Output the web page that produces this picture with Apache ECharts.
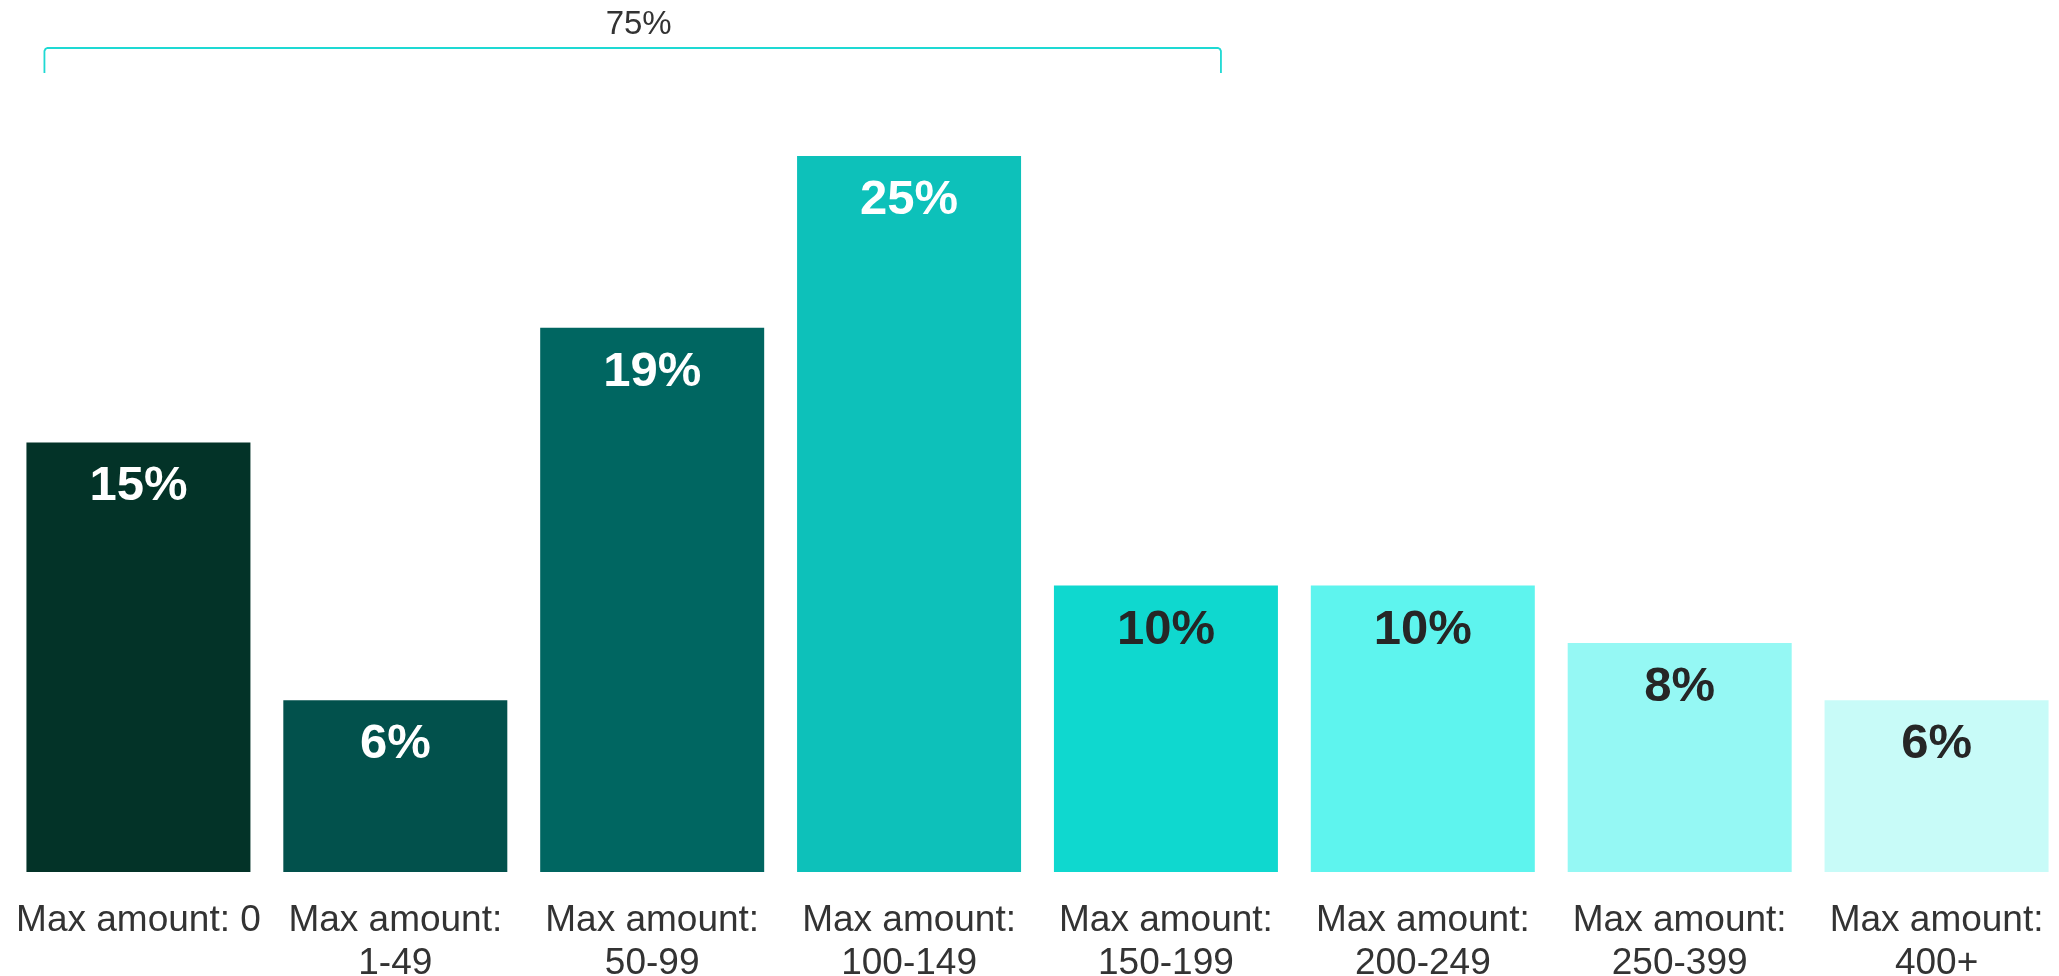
<!DOCTYPE html>
<html>
<head>
<meta charset="utf-8">
<script src="https://cdn.jsdelivr.net/npm/echarts@6/dist/echarts.min.js"></script>
<style>
  html, body { margin: 0; padding: 0; background: #fff; }
  #chart { width: 2059px; height: 976px; }
</style>
</head>
<body>
<div id="chart"></div>
<script>
// chart data
const categories = ["Max amount: 0", "Max amount:\n1-49", "Max amount:\n50-99", "Max amount:\n100-149",
    "Max amount:\n150-199", "Max amount:\n200-249", "Max amount:\n250-399", "Max amount:\n400+"];
const shares = [15, 6, 19, 25, 10, 10, 8, 6];
const barColors = ["#033328", "#02514C", "#006661", "#0DC1BA", "#0FD8CF", "#5EF4EE", "#95F8F4", "#C8FBF8"];
const labelColors = ["#FFFFFF", "#FFFFFF", "#FFFFFF", "#FFFFFF", "#262626", "#262626", "#262626", "#262626"];
const bracketLabel = "75%";
const bracketFrom = 0;
const bracketTo = 4;

const chart = echarts.init(document.getElementById("chart"));

const option = {
    animation: false,
    grid: { left: 10, right: -6, top: 156, bottom: 104, containLabel: false, outerBoundsMode: 'none' },
    xAxis: {
        type: 'category',
        data: categories,
        axisLine: { show: false },
        axisTick: { show: false },
        axisLabel: {
            interval: 0,
            margin: 27,
            fontFamily: '"Liberation Sans", Arial, sans-serif',
            fontSize: 37,
            lineHeight: 43,
            color: '#333333'
        }
    },
    yAxis: {
        type: 'value',
        min: 0,
        max: 25,
        show: false,
        splitLine: { show: false }
    },
    series: [{
        type: 'bar',
        barCategoryGap: '12.8%',
        data: shares.map((v, i) => ({
            value: v,
            itemStyle: { color: barColors[i] },
            label: { color: labelColors[i] }
        })),
        label: {
            show: true,
            position: 'insideTop',
            distance: 20,
            formatter: '{c}%',
            fontFamily: '"Liberation Sans", Arial, sans-serif',
            fontWeight: 'bold',
            fontSize: 49
        }
    }]
};
chart.setOption(option);

// bracket above the first five bars
function drawBracket() {
    const p0 = chart.convertToPixel({ xAxisIndex: 0, yAxisIndex: 0 }, [bracketFrom, 0]);
    const p1 = chart.convertToPixel({ xAxisIndex: 0, yAxisIndex: 0 }, [bracketTo, 0]);
    const x0 = p0[0] - 94;
    const x1 = p1[0] + 55;
    const yTop = 48;
    const yBot = 73;
    chart.setOption({
        graphic: [
            {
                type: 'polyline',
                shape: {
                    points: [[x0, yBot], [x0, yTop + 3], [x0 + 1, yTop + 1], [x0 + 3, yTop],
                        [x1 - 3, yTop], [x1 - 1, yTop + 1], [x1, yTop + 3], [x1, yBot]]
                },
                style: { fill: null, stroke: '#1ED9D3', lineWidth: 1.8 }
            },
            {
                type: 'text',
                x: (x0 + x1) / 2 + 6,
                y: 25,
                style: {
                    text: bracketLabel,
                    fill: '#333333',
                    font: '33px "Liberation Sans", Arial, sans-serif',
                    align: 'center',
                    verticalAlign: 'middle'
                }
            }
        ]
    });
}
drawBracket();
</script>
</body>
</html>
